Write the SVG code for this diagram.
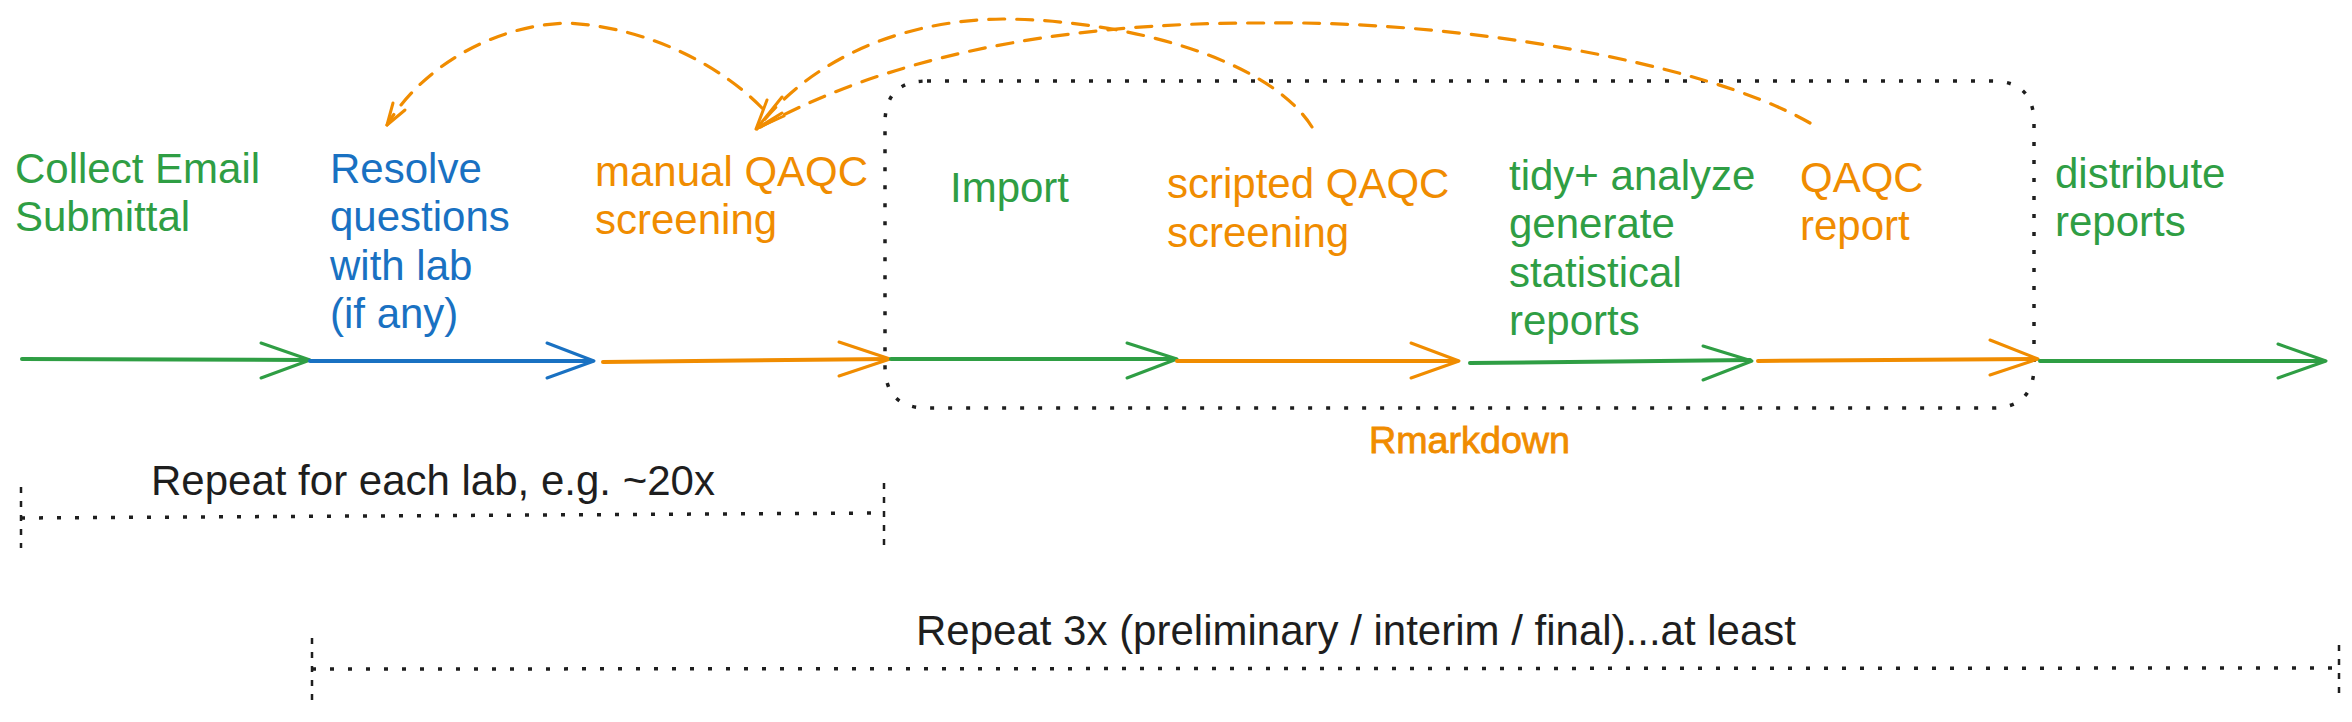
<svg xmlns="http://www.w3.org/2000/svg" width="2352" height="722" viewBox="0 0 2352 722">
<style>
text { font-family: "Liberation Sans", Arial, sans-serif; font-size: 42px; }
.g { fill: #2f9e44; }
.b { fill: #1971c2; }
.o { fill: #f08c00; }
.k { fill: #1e1e1e; }
.shaft { fill: none; stroke-width: 4; stroke-linecap: round; }
.head { fill: none; stroke-width: 3; stroke-linecap: round; stroke-linejoin: round; }
.sg { stroke: #2f9e44; }
.sb { stroke: #1971c2; }
.so { stroke: #f08c00; }
.arc { fill: none; stroke: #f08c00; stroke-width: 3.2; stroke-dasharray: 16 12; stroke-linecap: round; }
.dot { fill: none; stroke: #1e1e1e; stroke-width: 3.5; stroke-dasharray: 4 14; }
.vdash { fill: none; stroke: #1e1e1e; stroke-width: 2.5; stroke-dasharray: 6 8; }
.hand { font-size: 37px; stroke: #f08c00; stroke-width: 0.8; }
</style>

<g id="rmarkdown-box">
  <path class="dot" d="M927,81 L1992,81 Q2034,81 2034,123 L2034,366 Q2034,408 1992,408 L927,408 Q885,408 885,366 L885,123 Q885,81 927,81 Z"/>
  <text class="o hand" x="1369" y="453" textLength="201" lengthAdjust="spacingAndGlyphs">Rmarkdown</text>
</g>

<g id="connectors">
  <g id="flow-arrows">
    <path class="shaft sg" d="M22,359 L308,360"/>
    <path class="head sg" d="M261,343 L310,360 L261,378"/>
    <path class="shaft sb" d="M310,361 L592,361"/>
    <path class="head sb" d="M547,343 L594,361 L547,378"/>
    <path class="shaft so" d="M603,362 L888,359"/>
    <path class="head so" d="M839,342 L890,359 L839,376"/>
    <path class="shaft sg" d="M891,359 L1175,359"/>
    <path class="head sg" d="M1127,343 L1177,359 L1127,378"/>
    <path class="shaft so" d="M1177,361 L1457,361"/>
    <path class="head so" d="M1411,343 L1459,361 L1411,378"/>
    <path class="shaft sg" d="M1470,363 L1750,360"/>
    <path class="head sg" d="M1703,346 L1752,361 L1703,380"/>
    <path class="shaft so" d="M1758,361 L2036,359"/>
    <path class="head so" d="M1990,340 L2038,359 L1990,375"/>
    <path class="shaft sg" d="M2040,361 L2324,361"/>
    <path class="head sg" d="M2278,344 L2326,361 L2278,378"/>
  </g>
  <g id="feedback-arrows">
    <path class="arc" d="M762,108 C725,70 655,28 568,23 C490,25 420,70 387,125"/>
    <path class="head so" d="M393,103 L387,125 L405,110"/>
    <path class="arc" d="M1312,127 C1270,60 1130,20 1003,19 C900,20 810,60 757,129"/>
    <path class="head so" d="M767,100 L756,129 L782,113"/>
    <path class="arc" d="M1810,123 C1700,60 1450,20 1265,23 C1050,22 880,60 757,129"/>
    <path class="head so" d="M782,97 L757,128 L784,116"/>
  </g>
</g>

<g id="node-collect">
  <text class="g" x="15" y="183">Collect Email</text>
  <text class="g" x="15" y="231">Submittal</text>
</g>
<g id="node-resolve">
  <text class="b" x="330" y="183">Resolve</text>
  <text class="b" x="330" y="231">questions</text>
  <text class="b" x="330" y="280">with lab</text>
  <text class="b" x="330" y="328">(if any)</text>
</g>
<g id="node-manual">
  <text class="o" x="595" y="186">manual QAQC</text>
  <text class="o" x="595" y="234">screening</text>
</g>
<g id="node-import">
  <text class="g" x="950" y="202">Import</text>
</g>
<g id="node-scripted">
  <text class="o" x="1167" y="198">scripted QAQC</text>
  <text class="o" x="1167" y="247">screening</text>
</g>
<g id="node-tidy">
  <text class="g" x="1509" y="190">tidy+ analyze</text>
  <text class="g" x="1509" y="238">generate</text>
  <text class="g" x="1509" y="287">statistical</text>
  <text class="g" x="1509" y="335">reports</text>
</g>
<g id="node-qaqc-report">
  <text class="o" x="1800" y="192">QAQC</text>
  <text class="o" x="1800" y="240">report</text>
</g>
<g id="node-distribute">
  <text class="g" x="2055" y="188">distribute</text>
  <text class="g" x="2055" y="236">reports</text>
</g>

<g id="bracket-lab">
  <path class="vdash" d="M21,487 L21,548"/>
  <path class="dot" d="M21,518 L884,513"/>
  <path class="vdash" d="M884,483 L884,545"/>
  <text class="k" x="151" y="495">Repeat for each lab, e.g. ~20x</text>
</g>
<g id="bracket-repeat">
  <path class="vdash" d="M312,638 L312,700"/>
  <path class="dot" d="M312,669 L2339,668"/>
  <path class="vdash" d="M2339,645 L2339,697"/>
  <text class="k" x="916" y="645">Repeat 3x (preliminary / interim / final)...at least</text>
</g>
</svg>
